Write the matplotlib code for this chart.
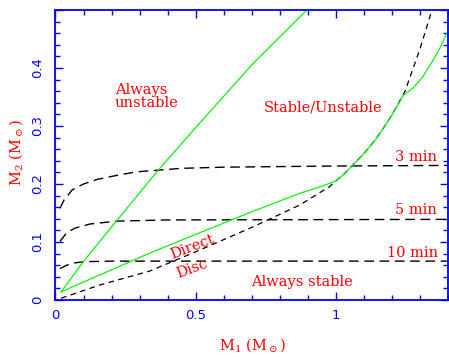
import matplotlib
matplotlib.use('Agg')
import matplotlib.pyplot as plt
from matplotlib.ticker import MultipleLocator, FuncFormatter

# Stability boundaries (green)
unstable_m1 = [0.02, 0.099, 0.219, 0.367, 0.5, 0.70, 0.897]
unstable_m2 = [0.014, 0.066, 0.137, 0.224, 0.297, 0.405, 0.5]

direct_m1 = [0.02, 0.1, 0.2, 0.266, 0.337, 0.5, 0.7, 0.873, 0.95, 1.0, 1.03, 1.06, 1.10,
             1.14, 1.17, 1.2, 1.242, 1.278, 1.31, 1.34, 1.37, 1.40]
direct_m2 = [0.014, 0.031, 0.052, 0.066, 0.081, 0.113, 0.152, 0.184, 0.196, 0.205, 0.217, 0.232, 0.252,
             0.275, 0.296, 0.318, 0.353, 0.366, 0.384, 0.407, 0.432, 0.463]

# Disc boundary (black, short dashes)
disc_m1 = [0.02, 0.159, 0.337, 0.5, 0.7, 0.873, 0.98, 1.0, 1.03, 1.06, 1.10, 1.14, 1.17, 1.2,
           1.248, 1.302, 1.337, 1.343]
disc_m2 = [0.003, 0.026, 0.05, 0.083, 0.125, 0.164, 0.196, 0.205, 0.217, 0.232, 0.252, 0.275, 0.296, 0.318,
           0.360, 0.434, 0.489, 0.5]

# Orbital period lines (black dashed)
p3_m1 = [0.016, 0.03, 0.06, 0.1, 0.15, 0.22, 0.29, 0.45, 0.6, 1.0, 1.4]
p3_m2 = [0.158, 0.172, 0.19, 0.200, 0.208, 0.215, 0.221, 0.227, 0.229, 0.231, 0.232]
p5_m1 = [0.016, 0.04, 0.07, 0.123, 0.22, 0.4, 1.4]
p5_m2 = [0.101, 0.116, 0.124, 0.131, 0.136, 0.138, 0.139]
p10_m1 = [0.016, 0.04, 0.07, 0.1, 0.2, 1.4]
p10_m2 = [0.054, 0.060, 0.064, 0.066, 0.067, 0.067]

blue = '#0000ff'
red = '#ff0000'
green = '#11ee11'

plt.rcParams['mathtext.fontset'] = 'dejavuserif'

fig = plt.figure(figsize=(4.49, 3.57), dpi=100)
ax = fig.add_axes([0.1236, 0.1597, 0.8734, 0.8123])

for xs, ys in [(p3_m1, p3_m2), (p5_m1, p5_m2), (p10_m1, p10_m2)]:
    ax.plot(xs, ys, color='black', lw=1.0, dashes=(7, 4))
ax.plot(disc_m1, disc_m2, color='black', lw=0.9, dashes=(4.5, 3.5))
ax.plot(unstable_m1, unstable_m2, color=green, lw=0.9)
ax.plot(direct_m1, direct_m2, color=green, lw=0.9)

ax.set_xlim(0, 1.4)
ax.set_ylim(0, 0.5)

ax.xaxis.set_major_locator(MultipleLocator(0.5))
ax.xaxis.set_minor_locator(MultipleLocator(0.1))
ax.yaxis.set_major_locator(MultipleLocator(0.1))
ax.yaxis.set_minor_locator(MultipleLocator(0.02))
ax.xaxis.set_major_formatter(FuncFormatter(lambda v, p: '%g' % round(v, 3)))
ax.yaxis.set_major_formatter(FuncFormatter(lambda v, p: '' if v > 0.45 else '%g' % round(v, 3)))

ax.tick_params(which='both', direction='in', top=True, right=True, color=blue,
               width=1.0, labelcolor=blue, labelsize=9.5)
ax.tick_params(which='major', length=5.8)
ax.tick_params(which='minor', length=3.4)
ax.tick_params(axis='x', pad=6.5)
ax.tick_params(axis='y', pad=8.5)
for lab in ax.get_yticklabels():
    lab.set_rotation(90)
    lab.set_va('center')
for s in ax.spines.values():
    s.set_color(blue)
    s.set_linewidth(1.3)

tf = dict(color=red, family='DejaVu Serif', fontsize=10.5)
ax.text(0.2125, 0.356, 'Always', ha='left', va='baseline', **tf)
ax.text(0.2125, 0.332, 'unstable', ha='left', va='baseline', **tf)
ax.text(1.166, 0.325, 'Stable/Unstable', ha='right', va='baseline', **tf)
ax.text(1.361, 0.240, '3 min', ha='right', va='baseline', **tf)
ax.text(1.361, 0.148, '5 min', ha='right', va='baseline', **tf)
ax.text(1.365, 0.0747, '10 min', ha='right', va='baseline', **tf)
ax.text(0.70, 0.024, 'Always stable', ha='left', va='baseline', **tf)
ax.text(0.488, 0.091, 'Direct', ha='center', va='center', rotation=21, rotation_mode='anchor', **tf)
ax.text(0.488, 0.054, 'Disc', ha='center', va='center', rotation=20, rotation_mode='anchor', **tf)

ax.text(0.502, -0.155, r'M$_1$ (M$_\odot$)', transform=ax.transAxes,
        ha='center', va='center', **tf)
ax.text(-0.1007, 0.51, r'M$_2$ (M$_\odot$)', transform=ax.transAxes,
        ha='center', va='center', rotation=90, **tf)

fig.savefig('out.png', dpi=100)
